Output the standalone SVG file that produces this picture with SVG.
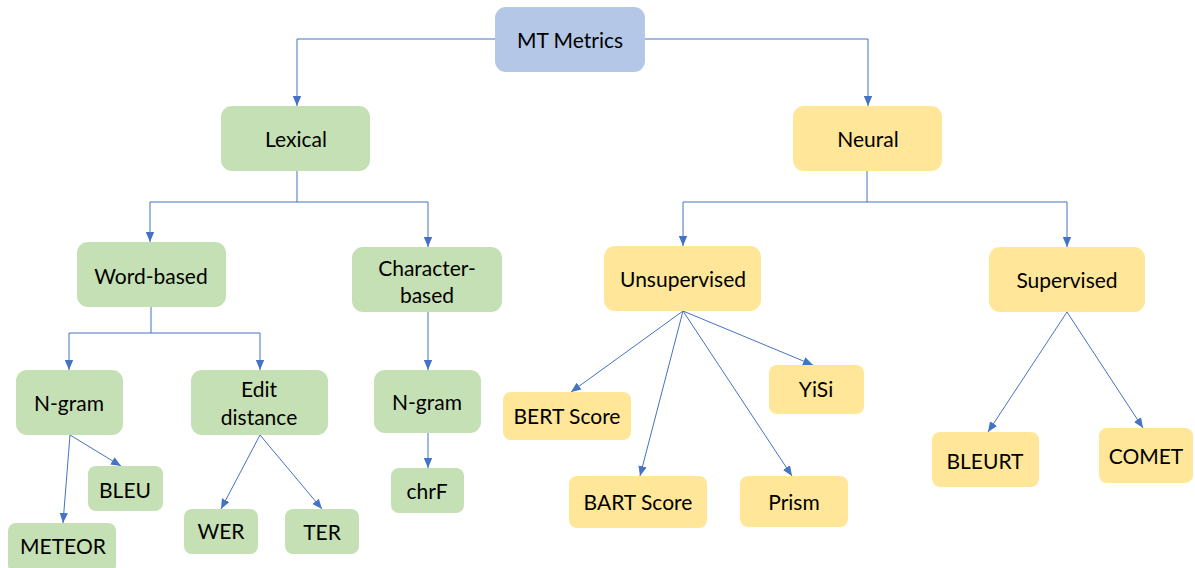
<svg xmlns="http://www.w3.org/2000/svg" width="1195" height="568" viewBox="0 0 1195 568">
<defs>
<marker id="ah" markerUnits="userSpaceOnUse" markerWidth="10" markerHeight="10" viewBox="0 0 10 10" refX="10" refY="5" orient="auto">
<path d="M0,0.8 L10,5 L0,9.2 Z" fill="#4472C4"/>
</marker>
<style>
.b{fill:#B4C7E7}
.g{fill:#C5E0B4}
.y{fill:#FFE699}
text{font-family:Lato,"Liberation Sans",sans-serif;font-size:21px;fill:#000;text-anchor:middle;dominant-baseline:central}
.c path{fill:none;stroke:#4472C4;stroke-width:1}
.c .a{marker-end:url(#ah)}
</style>
</defs>
<rect width="1195" height="568" fill="#fff"/>
<g class="c" id="connectors">
<path class="a" d="M495,39 H297 V106"/>
<path class="a" d="M645,39 H868 V106"/>
<path d="M297,171 V202"/>
<path class="a" d="M297,202 H150 V242"/>
<path class="a" d="M297,202 H428 V247"/>
<path d="M151,307 V333"/>
<path class="a" d="M151,333 H69 V370"/>
<path class="a" d="M151,333 H260 V370"/>
<path class="a" d="M428,312 V370"/>
<path class="a" d="M428,433 V468"/>
<path class="a" d="M70,435 L121,466"/>
<path class="a" d="M70,435 L63,523"/>
<path class="a" d="M260,435 L221,509"/>
<path class="a" d="M260,435 L322,509"/>
<path d="M867,171 V202"/>
<path class="a" d="M867,202 H683 V246"/>
<path class="a" d="M867,202 H1067 V247"/>
<path class="a" d="M683,311 L571,392"/>
<path class="a" d="M683,311 L640,476"/>
<path class="a" d="M683,311 L792,476"/>
<path class="a" d="M683,311 L813,365"/>
<path class="a" d="M1067,312 L988,432"/>
<path class="a" d="M1067,312 L1143,428"/>
</g>
<g id="mt-metrics"><rect class="b" x="495" y="7" width="150" height="65" rx="11"/><text x="570" y="39">MT Metrics</text></g>
<g id="lexical"><rect class="g" x="221" y="106" width="149" height="65" rx="11"/><text x="296" y="138">Lexical</text></g>
<g id="neural"><rect class="y" x="793" y="106" width="149" height="65" rx="11"/><text x="868" y="138">Neural</text></g>
<g id="word-based"><rect class="g" x="77" y="242" width="149" height="65" rx="11"/><text x="151" y="275">Word-based</text></g>
<g id="character-based"><rect class="g" x="352" y="247" width="150" height="65" rx="11"/><text x="427" y="267">Character-</text><text x="427" y="294">based</text></g>
<g id="unsupervised"><rect class="y" x="604" y="246" width="157" height="65" rx="11"/><text x="683" y="278">Unsupervised</text></g>
<g id="supervised"><rect class="y" x="989" y="247" width="156" height="65" rx="11"/><text x="1067" y="279">Supervised</text></g>
<g id="n-gram-word"><rect class="g" x="16" y="370" width="107" height="65" rx="11"/><text x="69" y="402">N-gram</text></g>
<g id="edit-distance"><rect class="g" x="191" y="370" width="137" height="65" rx="11"/><text x="259" y="388">Edit</text><text x="259" y="416">distance</text></g>
<g id="n-gram-char"><rect class="g" x="374" y="370" width="107" height="63" rx="11"/><text x="427" y="401">N-gram</text></g>
<g id="bleu"><rect class="g" x="88" y="466" width="75" height="45" rx="8"/><text x="125" y="489">BLEU</text></g>
<g id="meteor"><rect class="g" x="8" y="523" width="108" height="50" rx="8"/><text x="63" y="545">METEOR</text></g>
<g id="wer"><rect class="g" x="184" y="509" width="74" height="45" rx="8"/><text x="221" y="530">WER</text></g>
<g id="ter"><rect class="g" x="285" y="509" width="74" height="45" rx="8"/><text x="322" y="531">TER</text></g>
<g id="chrf"><rect class="g" x="391" y="468" width="73" height="45" rx="8"/><text x="427" y="490">chrF</text></g>
<g id="bert-score"><rect class="y" x="503" y="392" width="128" height="48" rx="8"/><text x="567" y="415">BERT Score</text></g>
<g id="yisi"><rect class="y" x="769" y="365" width="95" height="49" rx="8"/><text x="816" y="388">YiSi</text></g>
<g id="bart-score"><rect class="y" x="569" y="476" width="138" height="52" rx="8"/><text x="638" y="501">BART Score</text></g>
<g id="prism"><rect class="y" x="740" y="476" width="108" height="51" rx="8"/><text x="794" y="501">Prism</text></g>
<g id="bleurt"><rect class="y" x="932" y="432" width="107" height="55" rx="8"/><text x="985" y="460">BLEURT</text></g>
<g id="comet"><rect class="y" x="1099" y="428" width="94" height="55" rx="8"/><text x="1146" y="455">COMET</text></g>
</svg>
